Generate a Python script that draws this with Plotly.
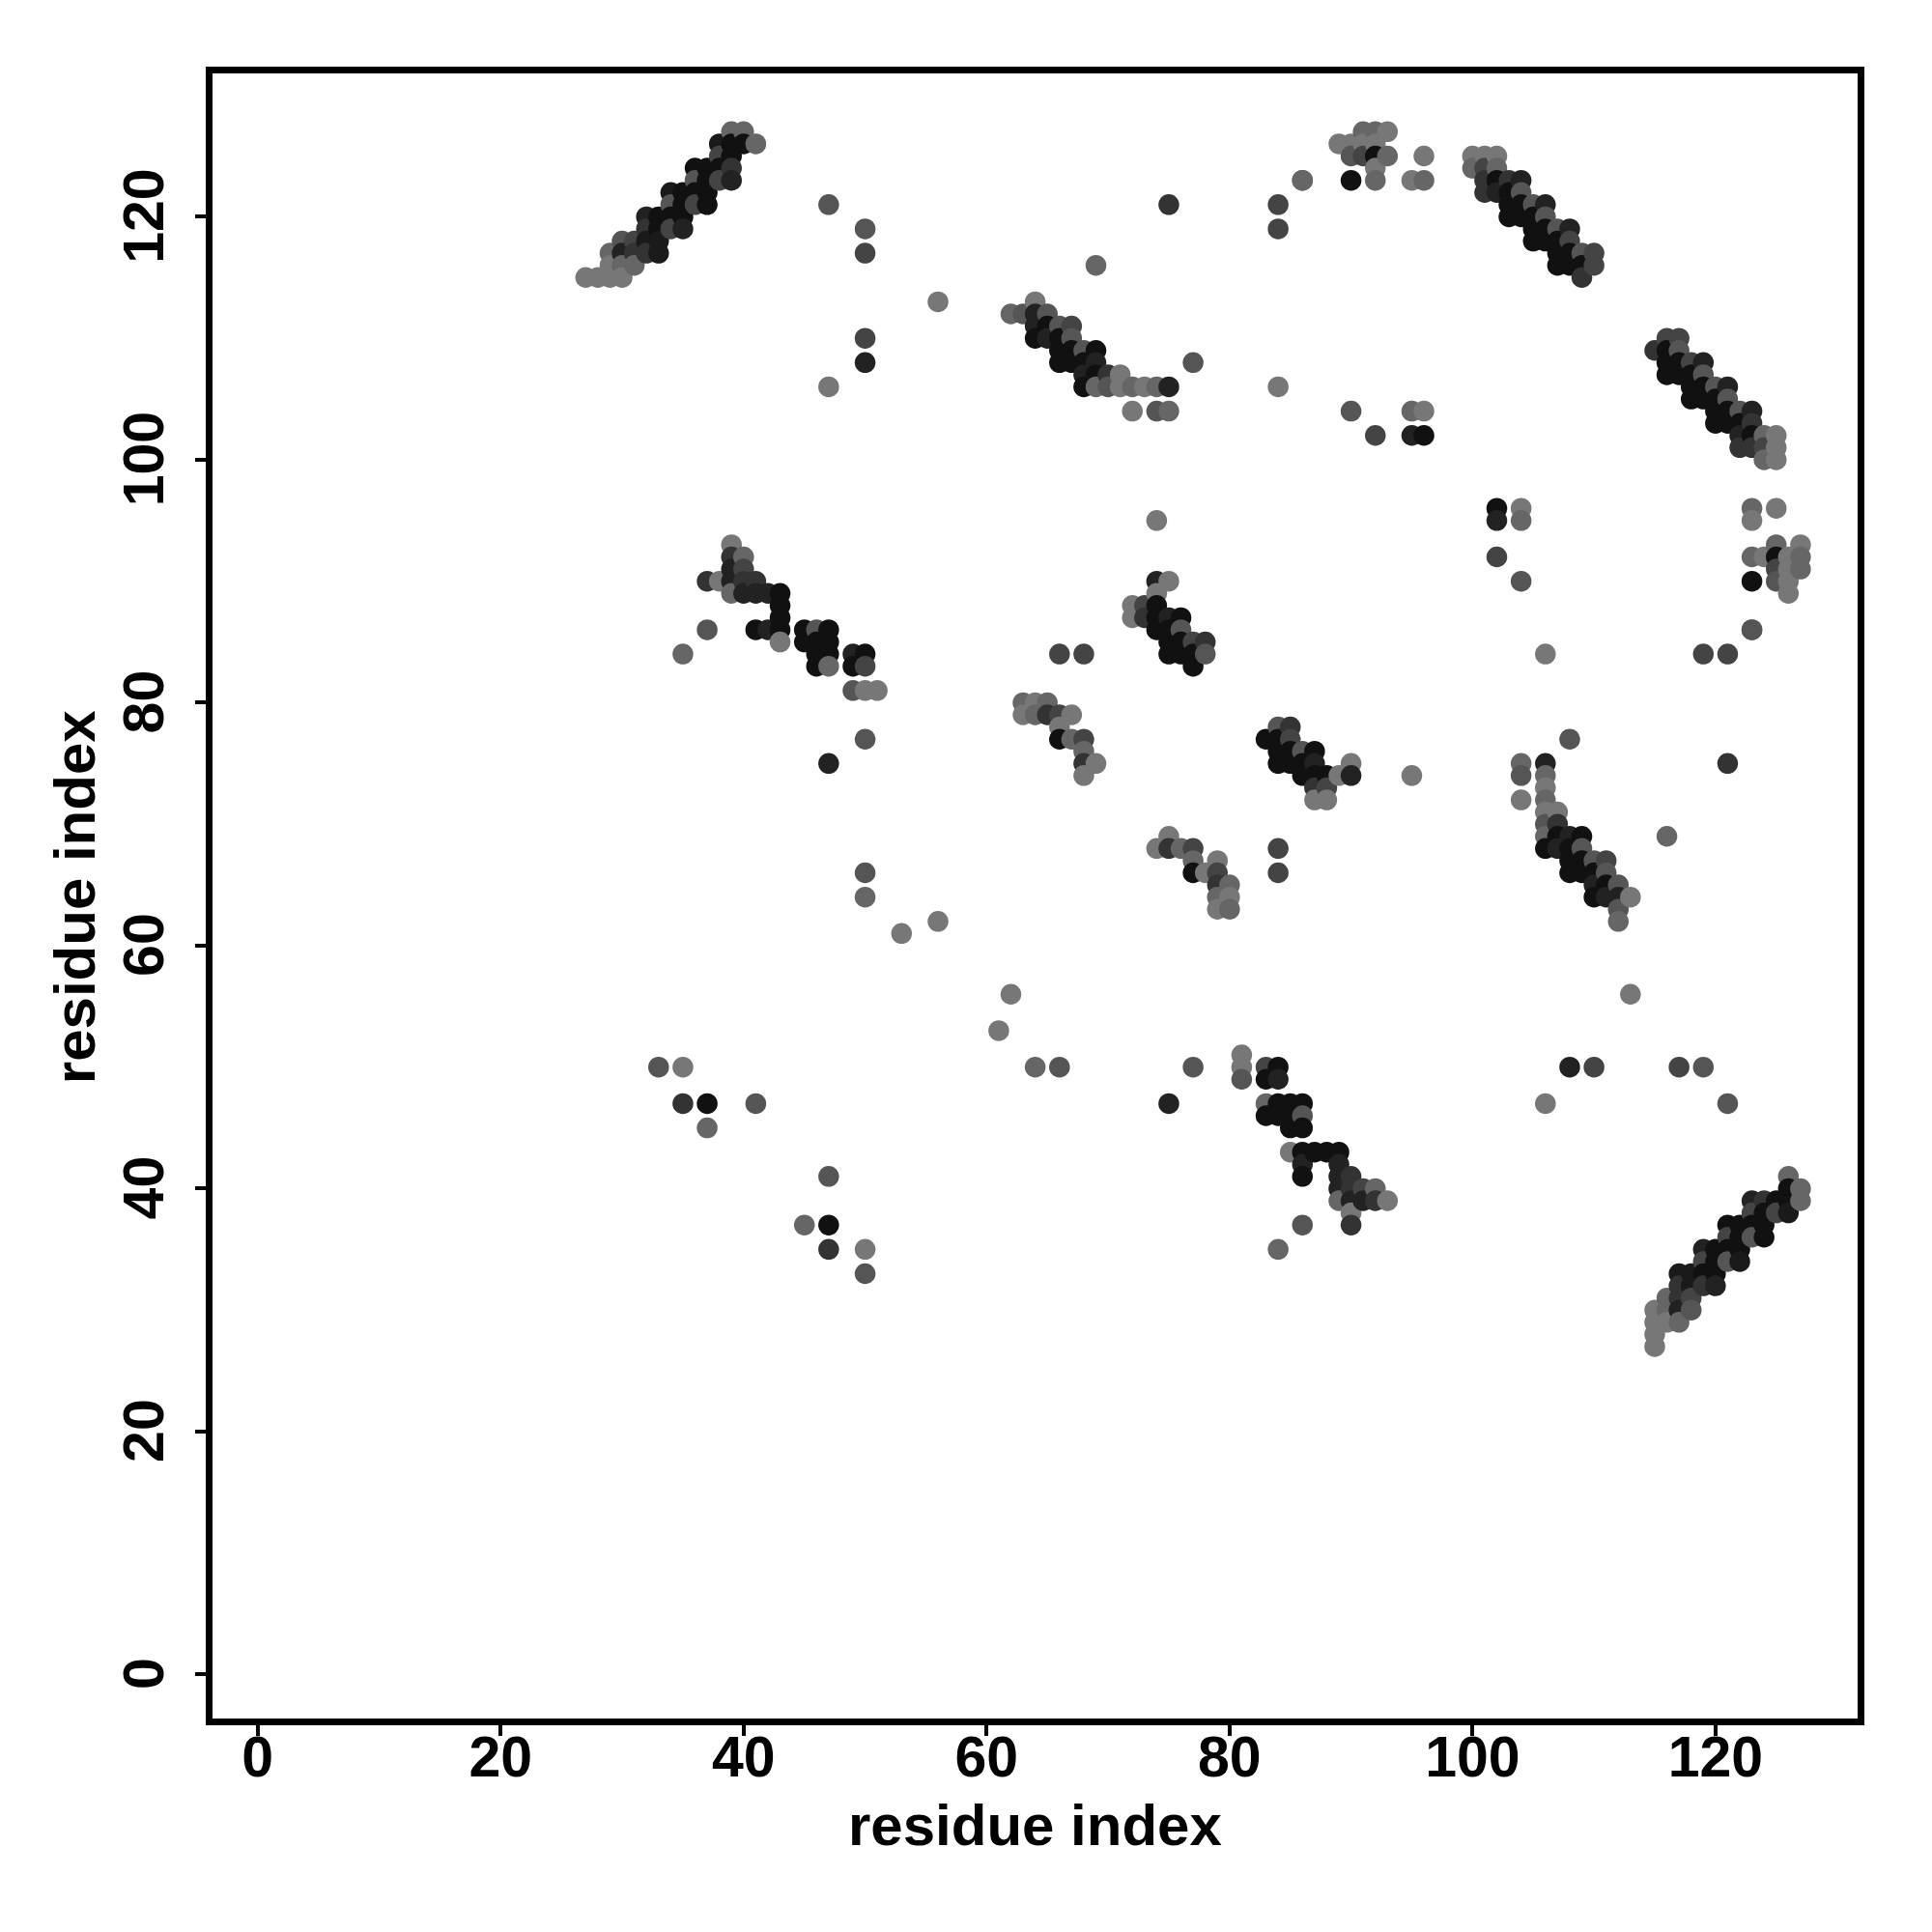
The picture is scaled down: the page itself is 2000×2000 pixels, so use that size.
import plotly.graph_objects as go

# (residue a, residue b, grey level) - the map is symmetric, each contact is listed once
strand_a = [
    (39,127,102),(40,127,102),(38,126,26),(39,126,17),(40,126,17),(41,126,102),
    (38,125,68),(39,125,17),(36,124,17),(37,124,17),(38,124,17),(39,124,51),
    (36,123,85),(37,123,17),(38,123,68),(39,123,34),(34,122,26),(35,122,17),(36,122,17),(37,122,17),
    (34,121,85),(35,121,17),(36,121,68),(37,121,17),(32,120,34),(33,120,17),(34,120,17),(35,120,17),
    (32,119,51),(33,119,17),(34,119,68),(35,119,34),(30,118,85),(31,118,68),(32,118,26),(33,118,26),
    (29,117,102),(30,117,34),(31,117,51),(32,117,51),(33,117,26),(29,116,119),(30,116,102),(31,116,102),
    (27,115,119),(28,115,119),(29,115,119),(30,115,119),
]
strand_b = [
    (116,110,68),(117,110,68),(115,109,51),(116,109,17),(117,109,85),(116,108,17),(117,108,17),(118,108,68),(119,108,34),
    (116,107,17),(117,107,17),(118,107,17),(119,107,85),(118,106,17),(119,106,17),(120,106,85),(121,106,34),
    (118,105,17),(119,105,17),(120,105,17),(121,105,85),(120,104,17),(121,104,17),(122,104,85),(123,104,34),
    (120,103,17),(121,103,17),(122,103,17),(123,103,51),(122,102,34),(123,102,17),(124,102,102),(125,102,119),
    (122,101,51),(123,101,51),(124,101,68),(125,101,119),(124,100,102),(125,100,119),
]
patch_c = [
    (123,96,102),(123,95,119),(125,96,119),(125,93,102),(127,93,119),(123,92,102),(124,92,119),(125,92,17),
    (126,92,119),(127,92,102),(125,91,68),(126,91,119),(127,91,102),(123,90,17),(125,90,85),(126,90,119),
    (126,89,119),(123,86,102),
]
patch_d = [
    (81,51,119),(81,50,119),(81,49,85),(83,50,68),(84,50,17),(83,49,17),(84,49,34),
    (83,47,102),(84,47,17),(85,47,17),(86,47,17),(83,46,17),(84,46,17),(85,46,17),(86,46,85),(85,45,17),(86,45,17),
    (85,43,119),(86,43,17),(87,43,17),(88,43,17),(89,43,17),(86,42,34),(89,42,34),(86,41,17),(89,41,34),(90,41,51),
    (89,40,34),(90,40,51),(91,40,68),(92,40,102),(89,39,102),(90,39,34),(91,39,34),(92,39,51),(93,39,119),
    (90,38,119),(86,37,85),(90,37,51),(84,35,102),
]
patch_e = [
    (104,75,102),(104,74,85),(104,72,119),(106,75,34),(106,74,102),(106,73,119),(106,72,102),(106,71,119),(107,71,119),
    (106,70,85),(107,70,51),(106,69,102),(107,69,17),(108,69,34),(109,69,17),(106,68,17),(107,68,34),(108,68,17),(109,68,85),
    (108,67,17),(109,67,17),(110,67,85),(111,67,68),(108,66,17),(109,66,17),(110,66,17),(111,66,85),
    (110,65,34),(111,65,17),(112,65,85),(110,64,17),(111,64,34),(112,64,34),(113,64,119),(112,63,85),(112,62,102),
]
patch_f = [
    (84,78,85),(85,78,51),(83,77,17),(84,77,17),(85,77,68),(84,76,17),(85,76,17),(86,76,85),(87,76,17),
    (84,75,17),(85,75,17),(86,75,17),(87,75,34),(90,75,119),(86,74,17),(87,74,17),(88,74,17),(89,74,119),(90,74,34),
    (87,73,51),(88,73,68),(87,72,119),(88,72,119),
]
patch_g = [
    (63,80,102),(64,80,119),(65,80,102),(63,79,119),(64,79,102),(65,79,51),(66,79,68),(67,79,119),(66,78,119),
    (66,77,17),(67,77,102),(68,77,68),(68,76,102),(68,75,51),(69,75,119),(68,74,119),
]
isolated = [
    (47,121,85),(50,119,85),(50,117,68),(56,113,119),(69,116,102),(50,110,68),(50,108,34),(47,106,119),(77,108,85),
    (84,106,119),(75,121,51),(84,121,68),(84,119,68),(86,123,85),(90,104,85),(92,102,68),(95,102,34),(96,102,17),
    (95,104,102),(96,104,119),(74,95,119),(66,84,68),(68,84,68),(47,75,34),(50,77,85),(50,64,102),(50,66,85),
    (53,61,119),(56,62,119),(33,50,85),(35,50,119),(35,47,51),(37,47,17),(37,45,102),(41,47,85),
]
tick_values = [0, 20, 40, 60, 80, 100, 120]
axis_label = "residue index"

contacts = strand_a + strand_b + patch_c + patch_d + patch_e + patch_f + patch_g + isolated
points = sorted({(a, b): s for a, b, s in contacts}.items())
pairs = [(a, b, s) for (a, b), s in points] + [(b, a, s) for (a, b), s in points]
pairs.sort(key=lambda p: (p[0], -p[1]))

fig = go.Figure(go.Scatter(
    x=[p[0] for p in pairs], y=[p[1] for p in pairs], mode="markers",
    marker=dict(size=21.5, color=[f"rgb({p[2]},{p[2]},{p[2]})" for p in pairs], line=dict(width=0)),
))
font = "Liberation Sans"
def axis(rng, angle, standoff, shift):
    return dict(range=rng, tickvals=tick_values, ticks="outside", ticklen=11, tickwidth=4, tickcolor="black",
                showline=True, linecolor="black", linewidth=7, mirror=True, showgrid=False, zeroline=False,
                tickangle=angle, ticklabelstandoff=standoff, ticklabelshift=shift,
                tickfont=dict(family=font, size=59, color="black", weight="bold"))
fig.update_layout(
    width=1984, height=1984, margin=dict(l=211.5, r=69, t=67.5, b=213), showlegend=False,
    paper_bgcolor="white", plot_bgcolor="white",
    xaxis=axis([-3.72, 131.7], 0, -29, 0), yaxis=axis([-3.62, 131.8], -90, 9, 8),
    annotations=[
        dict(text=f"<b>{axis_label}</b>", xref="paper", yref="paper", x=0.5, y=-0.0647, showarrow=False,
             font=dict(family=font, size=60, color="black"), xanchor="center", yanchor="middle"),
        dict(text=f"<b>{axis_label}</b>", xref="paper", yref="paper", x=-0.0835, y=0.4995, showarrow=False, textangle=-90,
             font=dict(family=font, size=60, color="black"), xanchor="center", yanchor="middle"),
    ],
)
fig.write_html("out.html")
